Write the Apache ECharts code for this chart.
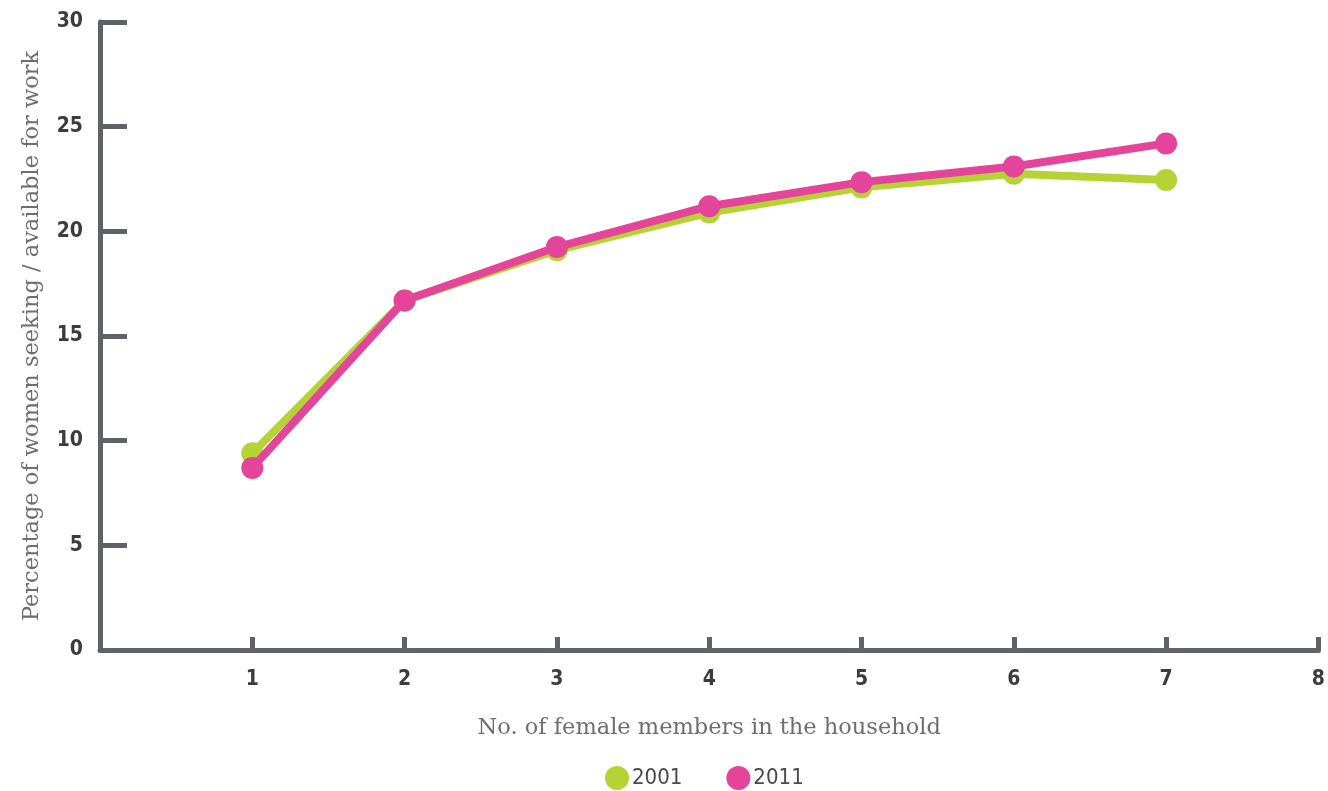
<!DOCTYPE html>
<html>
<head>
<meta charset="utf-8">
<script src="https://cdn.jsdelivr.net/npm/echarts@6/dist/echarts.min.js"></script>
<style>
  html, body { margin: 0; padding: 0; background: #ffffff; }
  #chart { width: 1328px; height: 791px; }
</style>
</head>
<body>
<div id="chart"></div>
<script>
// Number of female members in the household
const members = [1, 2, 3, 4, 5, 6, 7];
// Share of women seeking / available for work (%)
const values2001 = [9.4, 16.7, 19.1, 20.9, 22.1, 22.75, 22.45];
const values2011 = [8.7, 16.7, 19.25, 21.2, 22.35, 23.1, 24.2];
const seriesNames = ['2001', '2011'];

const axisColor = '#5f6268';
const labelFont = {
  fontFamily: 'DejaVu Sans Condensed',
  fontWeight: 'bold',
  fontSize: 21,
  color: '#3c3c3c'
};
const titleFont = {
  fontFamily: 'DejaVu Serif',
  fontSize: 22.5,
  color: '#6e6e6e'
};

const pair = (xs, ys) => xs.map((x, i) => [x, ys[i]]);

const chart = echarts.init(document.getElementById('chart'));
chart.setOption({
  animation: false,
  grid: { left: 100, right: 8, top: 22, bottom: 141 },
  xAxis: {
    type: 'value',
    min: 0,
    max: 8,
    interval: 1,
    name: 'No. of female members in the household',
    nameLocation: 'middle',
    nameGap: 67,
    nameTextStyle: titleFont,
    axisLine: { lineStyle: { color: axisColor, width: 5 } },
    axisTick: { inside: true, length: 13, lineStyle: { color: axisColor, width: 5 } },
    axisLabel: Object.assign({ margin: 19, showMinLabel: false }, labelFont),
    splitLine: { show: false }
  },
  yAxis: {
    type: 'value',
    min: 0,
    max: 30,
    interval: 5,
    name: 'Percentage of women seeking / available for work',
    nameLocation: 'middle',
    nameGap: 56,
    nameTextStyle: titleFont,
    axisLine: { show: true, lineStyle: { color: axisColor, width: 5 } },
    axisTick: { show: true, inside: true, length: 27, lineStyle: { color: axisColor, width: 5 } },
    axisLabel: Object.assign({ margin: 17 }, labelFont),
    splitLine: { show: false }
  },
  legend: {
    bottom: -4,
    left: 600,
    icon: 'circle',
    itemWidth: 24,
    itemHeight: 24,
    itemGap: 44,
    textStyle: {
      fontFamily: 'DejaVu Sans Condensed',
      fontSize: 22,
      color: '#4a4a4a',
      padding: [0, 0, 0, -2]
    },
    data: seriesNames
  },
  series: [
    {
      name: seriesNames[0],
      type: 'line',
      data: pair(members, values2001),
      symbol: 'circle',
      symbolSize: 22,
      z: 2,
      itemStyle: { color: '#b5d334' },
      lineStyle: { color: '#b5d334', width: 8 }
    },
    {
      name: seriesNames[1],
      type: 'line',
      data: pair(members, values2011),
      symbol: 'circle',
      symbolSize: 22,
      z: 3,
      itemStyle: { color: '#e4449a' },
      lineStyle: { color: '#e4449a', width: 8 }
    }
  ]
});
</script>
</body>
</html>
